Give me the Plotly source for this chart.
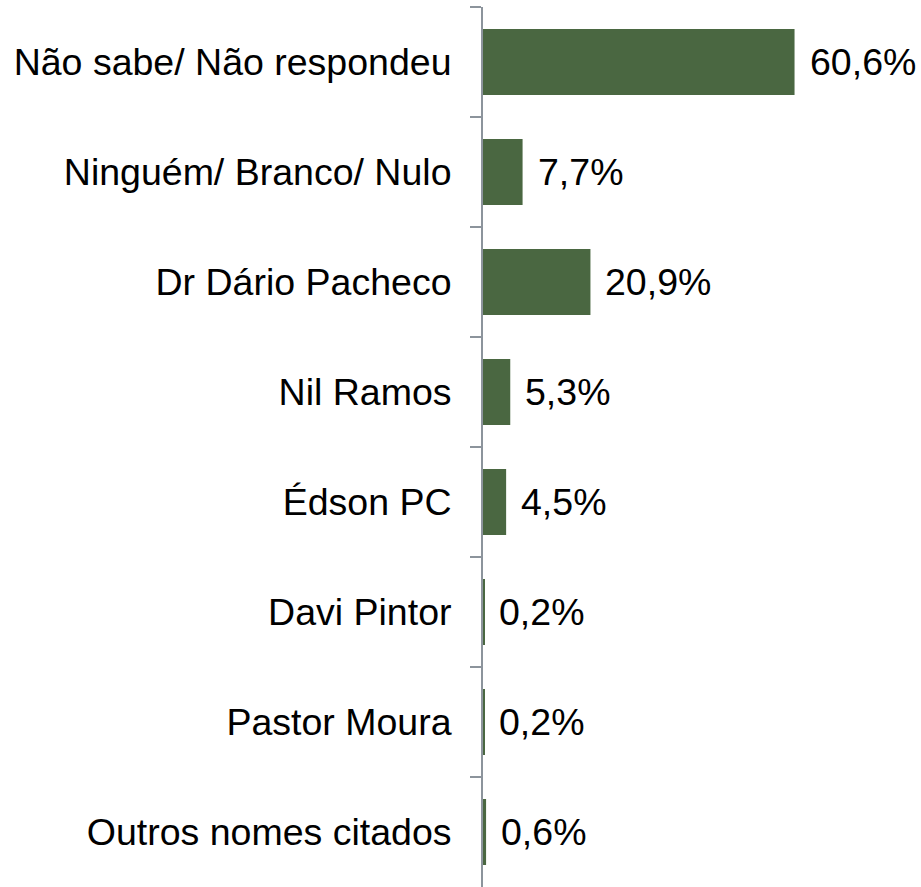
import plotly.graph_objects as go

categories = ["Não sabe/ Não respondeu", "Ninguém/ Branco/ Nulo", "Dr Dário Pacheco",
              "Nil Ramos", "Édson PC", "Davi Pintor", "Pastor Moura", "Outros nomes citados"]
values = [60.6, 7.7, 20.9, 5.3, 4.5, 0.2, 0.2, 0.6]
labels = [f"{v:.1f}%".replace(".", ",") for v in values]

FONT = "Liberation Sans, Arial, sans-serif"
FS = 37.5
fig = go.Figure()
fig.add_trace(go.Bar(
    y=categories, x=values, orientation="h",
    marker=dict(color="#4a6741", line=dict(width=0)),
    hoverinfo="skip",
))
for c, v, t in zip(categories, values, labels):
    fig.add_annotation(x=v, y=c, text=t, showarrow=False, xanchor="left", yanchor="middle",
                       xshift=13, font=dict(size=FS, color="black", family=FONT))

fig.update_layout(
    width=921, height=887,
    margin=dict(l=483, r=0, t=7, b=0),
    paper_bgcolor="white", plot_bgcolor="white",
    bargap=0.4, showlegend=False,
    font=dict(family=FONT, color="black"),
)
fig.update_xaxes(range=[0, 85.2], visible=False, showgrid=False, zeroline=False)
fig.update_yaxes(
    autorange="reversed", type="category", tickson="boundaries",
    ticks="outside", ticklen=11, tickcolor="#8c949c", tickwidth=2,
    showline=True, linecolor="#8c949c", linewidth=2,
    showgrid=False, zeroline=False,
    tickfont=dict(size=FS, color="black", family=FONT),
    ticklabelstandoff=22,
)
fig.write_html("out.html")
